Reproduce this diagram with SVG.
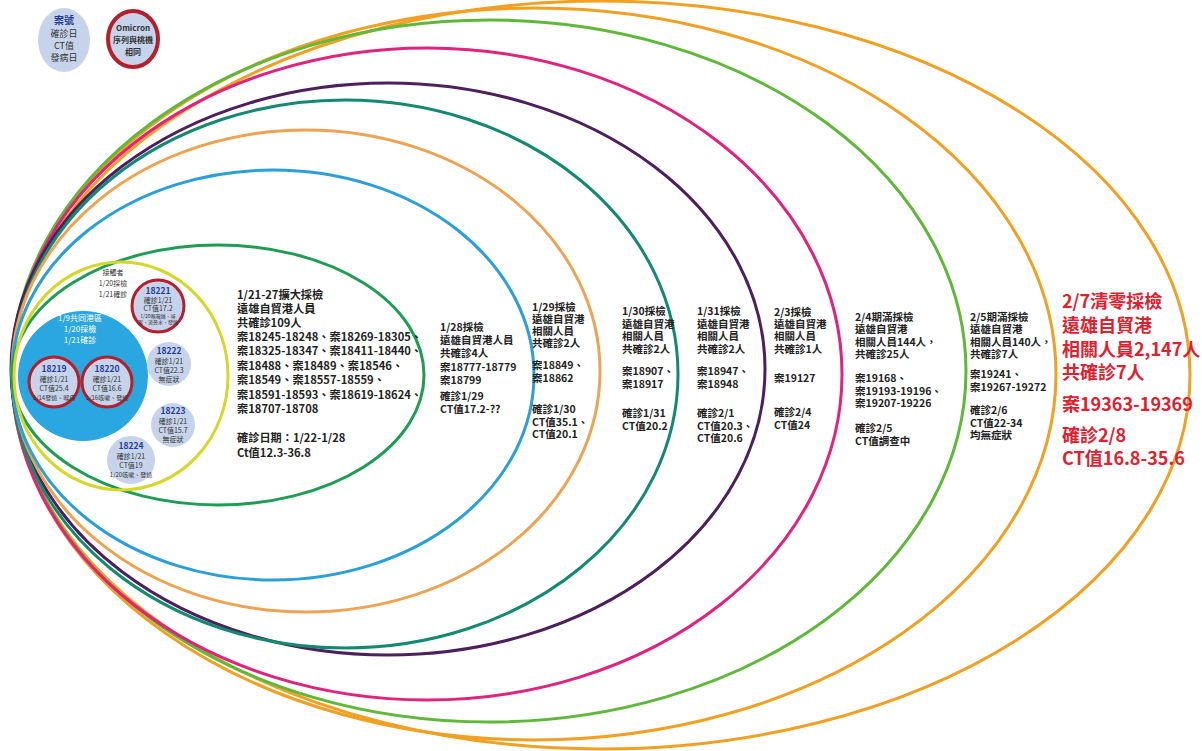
<svg xmlns="http://www.w3.org/2000/svg" width="1202" height="751" viewBox="0 0 1202 751">
<style>
text{font-family:"Noto Sans CJK TC","Noto Sans",sans-serif;font-weight:bold;fill:#222}
.ring{fill:none;stroke-width:3}
.t{font-size:11.2px}
.s{font-size:10.5px}
.r{font-size:18px;fill:#e0202e}
.c{font-size:7px;text-anchor:middle;fill:#333;font-weight:normal}
.cn{font-size:8.5px;text-anchor:middle;fill:#1f3c99;font-weight:bold}
.tiny{font-size:5px;text-anchor:middle;fill:#333;font-weight:normal}
.w{font-size:8px;text-anchor:middle;fill:#fff;font-weight:normal}
.case{fill:#c6d3ea}
.omi{fill:#c6d3ea;stroke:#b3202c;stroke-width:3}
</style>
<rect width="1202" height="751" fill="#fff"/>
<g id="connectors">
<ellipse class="ring" cx="601" cy="375" rx="589" ry="374" stroke="#f0a022"/>
<ellipse class="ring" cx="534" cy="374" rx="522" ry="366" stroke="#f0a022"/>
<ellipse class="ring" cx="489" cy="371" rx="477" ry="351" stroke="#5fb83a"/>
<ellipse class="ring" cx="427" cy="374" rx="415" ry="326" stroke="#e0237d"/>
<ellipse class="ring" cx="388" cy="369" rx="377" ry="286" stroke="#4d1f5c"/>
<ellipse class="ring" cx="345" cy="374" rx="333" ry="274" stroke="#128a70"/>
<ellipse class="ring" cx="306" cy="371" rx="294" ry="241" stroke="#eda452"/>
<ellipse class="ring" cx="273" cy="375" rx="261" ry="205" stroke="#2b9fd8"/>
<ellipse class="ring" cx="218" cy="375" rx="206" ry="130" stroke="#1f9d55"/>
<ellipse class="ring" cx="121" cy="376" rx="107" ry="114" stroke="#d4d82a"/>
</g>
<g id="legend-case">
<ellipse class="case" cx="64" cy="40" rx="26" ry="32"/>
<text class="cn" x="64" y="24" style="font-size:10px">案號</text>
<text class="c" x="64" y="37" style="font-size:9px">確診日</text>
<text class="c" x="64" y="49" style="font-size:9px">CT值</text>
<text class="c" x="64" y="61" style="font-size:9px">發病日</text>
</g>
<g id="legend-omicron">
<ellipse class="omi" cx="133" cy="39" rx="25" ry="28" style="stroke-width:4"/>
<text class="c" x="133" y="31" style="font-size:8px;font-weight:bold">Omicron</text>
<text class="c" x="133" y="43" style="font-size:8px;font-weight:bold">序列與桃機</text>
<text class="c" x="133" y="55" style="font-size:8px;font-weight:bold">相同</text>
</g>
<g id="contacts-label">
<text class="c" x="113" y="275">接觸者</text>
<text class="c" x="113" y="286">1/20採檢</text>
<text class="c" x="113" y="297">1/21確診</text>
</g>
<g id="port-group">
<circle cx="83" cy="376" r="65" fill="#2aa6e0"/>
<text class="w" x="80" y="321">1/9共同港區</text>
<text class="w" x="80" y="332">1/20採檢</text>
<text class="w" x="80" y="343">1/21確診</text>
</g>
<g id="case-18219">
<circle class="omi" cx="54" cy="382" r="25"/>
<text class="cn" x="54" y="372">18219</text>
<text class="c" x="54" y="382">確診1/21</text>
<text class="c" x="54" y="391">CT值25.4</text>
<text class="c" x="54" y="400" style="font-size:6px">1/14發燒、喉痛</text>
</g>
<g id="case-18220">
<circle class="omi" cx="107" cy="382" r="25"/>
<text class="cn" x="107" y="372">18220</text>
<text class="c" x="107" y="382">確診1/21</text>
<text class="c" x="107" y="391">CT值16.6</text>
<text class="c" x="107" y="400" style="font-size:6px">1/16咳嗽、發燒</text>
</g>
<g id="case-18221">
<circle class="omi" cx="158" cy="306" r="26"/>
<text class="cn" x="158" y="294">18221</text>
<text class="c" x="158" y="303">確診1/21</text>
<text class="c" x="158" y="311">CT值17.2</text>
<text class="tiny" x="158" y="318">1/20喉嚨痛、咳</text>
<text class="tiny" x="158" y="324">嗽、流鼻水、發燒</text>
</g>
<g id="case-18222">
<circle class="case" cx="169" cy="364" r="22"/>
<text class="cn" x="169" y="354">18222</text>
<text class="c" x="169" y="364">確診1/21</text>
<text class="c" x="169" y="373">CT值22.3</text>
<text class="c" x="169" y="382">無症狀</text>
</g>
<g id="case-18223">
<circle class="case" cx="173" cy="425" r="22"/>
<text class="cn" x="173" y="414">18223</text>
<text class="c" x="173" y="424">確診1/21</text>
<text class="c" x="173" y="433">CT值15.7</text>
<text class="c" x="173" y="442">無症狀</text>
</g>
<g id="case-18224">
<circle class="case" cx="131" cy="460" r="24"/>
<text class="cn" x="131" y="449">18224</text>
<text class="c" x="131" y="459">確診1/21</text>
<text class="c" x="131" y="468">CT值19</text>
<text class="c" x="131" y="477" style="font-size:6px">1/20咳嗽、發燒</text>
</g>
<g id="block-0121">
<text class="t" x="237" y="299">1/21-27擴大採檢</text>
<text class="t" x="237" y="313">遠雄自貿港人員</text>
<text class="t" x="237" y="327">共確診109人</text>
<text class="t" x="237" y="341">案18245-18248、案18269-18305、</text>
<text class="t" x="237" y="355">案18325-18347、案18411-18440、</text>
<text class="t" x="237" y="370">案18488、案18489、案18546、</text>
<text class="t" x="237" y="384">案18549、案18557-18559、</text>
<text class="t" x="237" y="399">案18591-18593、案18619-18624、</text>
<text class="t" x="237" y="413">案18707-18708</text>
<text class="t" x="237" y="442">確診日期：1/22-1/28</text>
<text class="t" x="237" y="457">Ct值12.3-36.8</text>
</g>
<g id="block-0128">
<text class="s" x="440" y="331">1/28採檢</text>
<text class="s" x="440" y="344">遠雄自貿港人員</text>
<text class="s" x="440" y="357">共確診4人</text>
<text class="s" x="440" y="371">案18777-18779</text>
<text class="s" x="440" y="384">案18799</text>
<text class="s" x="440" y="400">確診1/29</text>
<text class="s" x="440" y="413">CT值17.2-??</text>
</g>
<g id="block-0129">
<text class="s" x="532" y="311">1/29採檢</text>
<text class="s" x="532" y="323">遠雄自貿港</text>
<text class="s" x="532" y="335">相關人員</text>
<text class="s" x="532" y="347">共確診2人</text>
<text class="s" x="532" y="369">案18849、</text>
<text class="s" x="532" y="382">案18862</text>
<text class="s" x="532" y="413">確診1/30</text>
<text class="s" x="532" y="426">CT值35.1、</text>
<text class="s" x="532" y="438">CT值20.1</text>
</g>
<g id="block-0130">
<text class="s" x="622" y="315">1/30採檢</text>
<text class="s" x="622" y="328">遠雄自貿港</text>
<text class="s" x="622" y="340">相關人員</text>
<text class="s" x="622" y="353">共確診2人</text>
<text class="s" x="622" y="375">案18907、</text>
<text class="s" x="622" y="388">案18917</text>
<text class="s" x="622" y="417">確診1/31</text>
<text class="s" x="622" y="430">CT值20.2</text>
</g>
<g id="block-0131">
<text class="s" x="697" y="315">1/31採檢</text>
<text class="s" x="697" y="328">遠雄自貿港</text>
<text class="s" x="697" y="340">相關人員</text>
<text class="s" x="697" y="353">共確診2人</text>
<text class="s" x="697" y="375">案18947、</text>
<text class="s" x="697" y="388">案18948</text>
<text class="s" x="697" y="417">確診2/1</text>
<text class="s" x="697" y="430">CT值20.3、</text>
<text class="s" x="697" y="442">CT值20.6</text>
</g>
<g id="block-0203">
<text class="s" x="774" y="316">2/3採檢</text>
<text class="s" x="774" y="328">遠雄自貿港</text>
<text class="s" x="774" y="340">相關人員</text>
<text class="s" x="774" y="353">共確診1人</text>
<text class="s" x="774" y="382">案19127</text>
<text class="s" x="774" y="416">確診2/4</text>
<text class="s" x="774" y="429">CT值24</text>
</g>
<g id="block-0204">
<text class="s" x="855" y="321">2/4期滿採檢</text>
<text class="s" x="855" y="333">遠雄自貿港</text>
<text class="s" x="855" y="346">相關人員144人，</text>
<text class="s" x="855" y="358">共確診25人</text>
<text class="s" x="855" y="382">案19168、</text>
<text class="s" x="855" y="395">案19193-19196、</text>
<text class="s" x="855" y="407">案19207-19226</text>
<text class="s" x="855" y="432">確診2/5</text>
<text class="s" x="855" y="445">CT值調查中</text>
</g>
<g id="block-0205">
<text class="s" x="970" y="321">2/5期滿採檢</text>
<text class="s" x="970" y="333">遠雄自貿港</text>
<text class="s" x="970" y="346">相關人員140人，</text>
<text class="s" x="970" y="358">共確診7人</text>
<text class="s" x="970" y="378">案19241、</text>
<text class="s" x="970" y="391">案19267-19272</text>
<text class="s" x="970" y="414">確診2/6</text>
<text class="s" x="970" y="427">CT值22-34</text>
<text class="s" x="970" y="439">均無症狀</text>
</g>
<g id="block-0207">
<text class="r" x="1062" y="308">2/7清零採檢</text>
<text class="r" x="1062" y="332">遠雄自貿港</text>
<text class="r" x="1062" y="356">相關人員2,147人</text>
<text class="r" x="1062" y="379">共確診7人</text>
<text class="r" x="1062" y="411">案19363-19369</text>
<text class="r" x="1062" y="442">確診2/8</text>
<text class="r" x="1062" y="465">CT值16.8-35.6</text>
</g>
</svg>
